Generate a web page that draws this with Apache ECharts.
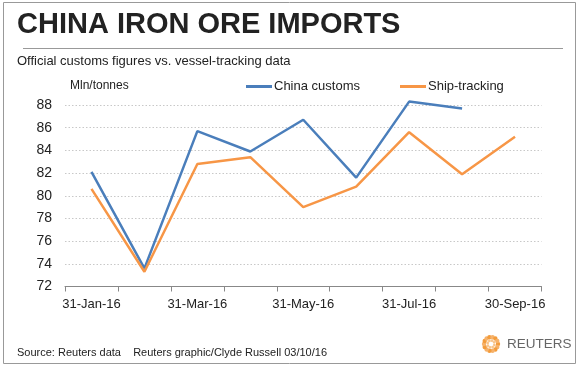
<!DOCTYPE html>
<html><head><meta charset="utf-8">
<script src="https://cdn.jsdelivr.net/npm/echarts@6/dist/echarts.min.js"></script>
<style>html,body{margin:0;padding:0;background:#fff}#c{width:586px;height:367px}</style>
</head><body><div id="c"></div>
<script>
const categories = ['31-Jan-16','29-Feb-16','31-Mar-16','30-Apr-16','31-May-16','30-Jun-16','31-Jul-16','31-Aug-16','30-Sep-16'];
const customs = [82.1, 73.6, 85.7, 83.9, 86.7, 81.6, 88.3, 87.7, null];
const shipTracking = [80.6, 73.3, 82.8, 83.4, 79.0, 80.8, 85.6, 81.9, 85.2];
const yTicks = {min: 72, max: 88, interval: 2};

const F = '"Liberation Sans", Arial, sans-serif';
const chart = echarts.init(document.getElementById('c'));

// Reuters logo dots (decorative)
const logo = [];
const cx = 491, cy = 344;
for (let i = 0; i < 14; i++) {
  const a = i / 14 * Math.PI * 2;
  logo.push({type:'circle', shape:{cx: cx + Math.cos(a)*7, cy: cy + Math.sin(a)*7, r: 2.2},
    style:{fill: i % 2 ? '#f6b26b' : '#f39c3c'}});
}
for (let i = 0; i < 8; i++) {
  const a = i / 8 * Math.PI * 2 + 0.3;
  logo.push({type:'circle', shape:{cx: cx + Math.cos(a)*3.5, cy: cy + Math.sin(a)*3.5, r: 1.4},
    style:{fill: '#f8c48a'}});
}

chart.setOption({
  animation: false,
  textStyle: {fontFamily: F},
  grid: {left: 65, right: 44.5, top: 105, bottom: 80.5},
  legend: {
    left: 246, top: 80, padding: 0, itemWidth: 26, itemHeight: 3, itemGap: 40, icon: 'rect',
    textStyle: {fontSize: 13, color: '#222', fontFamily: F, padding: [0,0,0,-3]},
    data: ['China customs', 'Ship-tracking']
  },
  xAxis: {
    type: 'category', data: categories, boundaryGap: true,
    axisLine: {lineStyle: {color: '#888', width: 1}},
    axisTick: {show: true, interval: 0, length: 5, lineStyle: {color: '#888'}},
    axisLabel: {interval: 1, fontSize: 13, color: '#222', margin: 11, fontFamily: F},
    splitLine: {show: false}
  },
  yAxis: {
    type: 'value', min: yTicks.min, max: yTicks.max, interval: yTicks.interval,
    axisLine: {show: false}, axisTick: {show: false},
    axisLabel: {fontSize: 14, color: '#222', margin: 13, fontFamily: F},
    splitLine: {lineStyle: {color: '#c8c8c8', type: [1.5, 2], width: 1}}
  },
  series: [
    {name: 'China customs', type: 'line', data: customs, showSymbol: false, symbol: 'none', clip: false,
     lineStyle: {color: '#4a7ebb', width: 2.5}, itemStyle: {color: '#4a7ebb'}, connectNulls: false},
    {name: 'Ship-tracking', type: 'line', data: shipTracking, showSymbol: false, symbol: 'none', clip: false,
     lineStyle: {color: '#f79646', width: 2.5}, itemStyle: {color: '#f79646'}}
  ],
  graphic: [
    {type: 'rect', shape: {x: 3.5, y: 2.5, width: 572, height: 361}, style: {fill: 'none', stroke: '#999', lineWidth: 1}, z: -1},
    {type: 'text', left: 17, top: 10, style: {text: 'CHINA IRON ORE IMPORTS', font: 'bold 29px ' + F, fill: '#222'}},
    {type: 'line', shape: {x1: 23, y1: 48.5, x2: 563, y2: 48.5}, style: {stroke: '#999', lineWidth: 1}},
    {type: 'text', left: 17, top: 55, style: {text: 'Official customs figures vs. vessel-tracking data', font: '13px ' + F, fill: '#222'}},
    {type: 'text', left: 70, top: 80, style: {text: 'Mln/tonnes', font: '12px ' + F, fill: '#222'}},
    {type: 'text', left: 17, top: 347, style: {text: 'Source: Reuters data    Reuters graphic/Clyde Russell 03/10/16', font: '11px ' + F, fill: '#222'}},
    {type: 'text', left: 507, top: 337, style: {text: 'REUTERS', font: '13.5px ' + F, fill: '#666'}},
    {type: 'group', children: logo}
  ]
});
</script></body></html>
